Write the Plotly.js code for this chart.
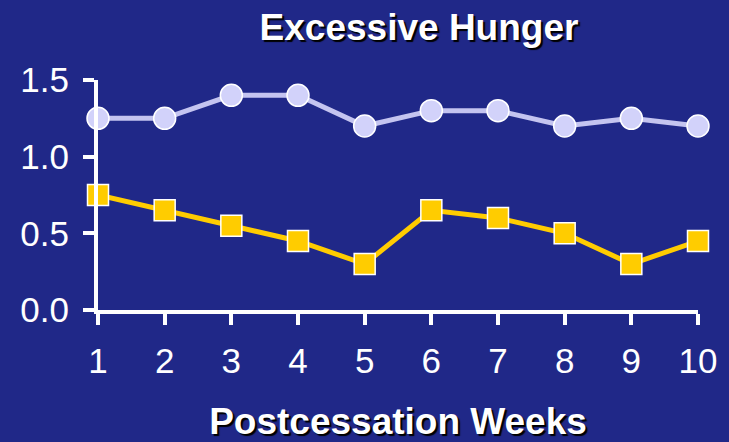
<!DOCTYPE html>
<html>
<head>
<meta charset="utf-8">
<script src="https://cdn.plot.ly/plotly-3.0.1.min.js"></script>
<style>html,body{margin:0;padding:0;background:#202888;}#chart{width:729px;height:442px;}</style>
</head>
<body>
<div id="chart"></div>
<script>
// Data
const weeks = [1, 2, 3, 4, 5, 6, 7, 8, 9, 10];
const seriesUpper = [1.25, 1.25, 1.4, 1.4, 1.2, 1.3, 1.3, 1.2, 1.25, 1.2];
const seriesLower = [0.75, 0.65, 0.55, 0.45, 0.3, 0.65, 0.6, 0.5, 0.3, 0.45];
const yTickVals = [0, 0.5, 1.0, 1.5];
const yTickText = ['0.0', '0.5', '1.0', '1.5'];
const titleText = 'Excessive Hunger';
const xTitleText = 'Postcessation Weeks';

const bg = '#202888';
const font = 'Arial, "Liberation Sans", sans-serif';

const traces = [
  {
    x: weeks, y: seriesLower, type: 'scatter', mode: 'lines+markers',
    cliponaxis: false,
    line: {color: '#ffcc00', width: 5},
    marker: {symbol: 'square', size: 21, color: '#ffcc00', line: {color: '#ffffff', width: 1.5}},
    hoverinfo: 'skip'
  },
  {
    x: weeks, y: seriesUpper, type: 'scatter', mode: 'lines+markers',
    cliponaxis: false,
    line: {color: '#c4c4f0', width: 5},
    marker: {symbol: 'circle', size: 22, color: '#d2d2fa', line: {color: '#ffffff', width: 1.5}},
    hoverinfo: 'skip'
  }
];

const layout = {
  width: 729, height: 442,
  paper_bgcolor: bg, plot_bgcolor: bg,
  showlegend: false,
  margin: {l: 98, r: 31, t: 80, b: 132, pad: 0},
  title: {
    text: titleText,
    font: {family: font, size: 37, color: '#ffffff', weight: 'bold', shadow: '2px 2px 1px #000000'},
    xref: 'container', yref: 'container',
    x: 419 / 729, xanchor: 'center',
    y: 1 - 27 / 442, yanchor: 'middle'
  },
  xaxis: {
    range: [1, 10], fixedrange: true,
    tickvals: weeks, ticktext: weeks.map(String),
    showgrid: false, zeroline: false,
    showline: true, linecolor: '#ffffff', linewidth: 4,
    ticks: 'outside', ticklen: 11, tickwidth: 4, tickcolor: '#ffffff',
    ticklabelstandoff: 6,
    tickfont: {family: font, size: 35, color: '#ffffff'},
    title: {
      text: xTitleText,
      font: {family: font, size: 37, color: '#ffffff', weight: 'bold', shadow: '2px 2px 1px #000000'},
      standoff: 36
    }
  },
  yaxis: {
    range: [0, 1.5], fixedrange: true,
    tickvals: yTickVals, ticktext: yTickText,
    showgrid: false, zeroline: false,
    showline: true, linecolor: '#ffffff', linewidth: 4,
    ticks: 'outside', ticklen: 11, tickwidth: 4, tickcolor: '#ffffff',
    ticklabelstandoff: 7,
    tickfont: {family: font, size: 35, color: '#ffffff'}
  }
};

Plotly.newPlot('chart', traces, layout, {displayModeBar: false, staticPlot: true});
</script>
</body>
</html>
